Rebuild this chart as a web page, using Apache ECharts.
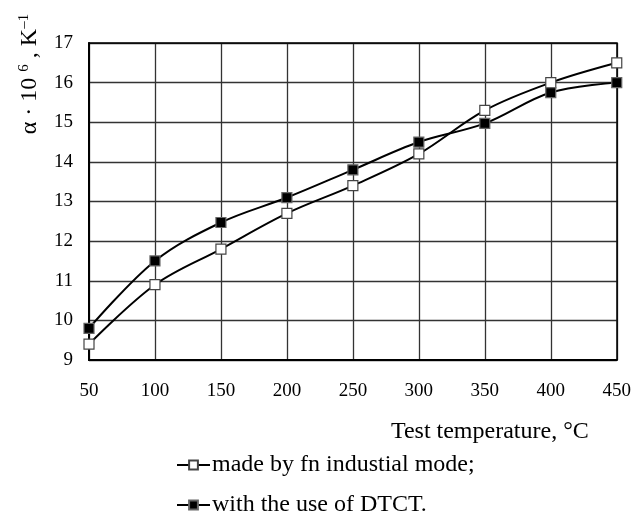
<!DOCTYPE html>
<html><head><meta charset="utf-8">
<script src="https://cdn.jsdelivr.net/npm/echarts@6/dist/echarts.min.js"></script>
<style>html,body{margin:0;padding:0;background:#fff}#c{width:634px;height:512px}</style>
</head><body><div id="c"></div>
<script>
const temps = [50, 100, 150, 200, 250, 300, 350, 400, 450];
const industrial = [9.4, 10.9, 11.8, 12.7, 13.4, 14.2, 15.3, 16.0, 16.5];
const dtct = [9.8, 11.5, 12.47, 13.1, 13.8, 14.5, 14.97, 15.75, 16.0];
const seriesNames = ['made by fn industial mode;', 'with the use of DTCT.'];
const xName = 'Test temperature, °C';

const font = 'Liberation Serif';
const chart = echarts.init(document.getElementById('c'));
const pair = (xs, ys) => xs.map((x, i) => [x, ys[i]]);
const legendBase = {
  orient: 'vertical', left: 171, itemWidth: 33, itemHeight: 11,
  textStyle: {fontFamily: font, fontSize: 24, color: '#000', padding: [0, 0, 0, -3]}
};
chart.setOption({
  animation: false,
  backgroundColor: '#fff',
  textStyle: {fontFamily: font, color: '#000'},
  grid: {left: 89, right: 17, top: 43, bottom: 152},
  xAxis: {
    type: 'value', min: 50, max: 450, interval: 50,
    axisLine: {show: true, lineStyle: {color: '#000', width: 2}},
    axisTick: {show: false},
    axisLabel: {fontFamily: font, fontSize: 19, color: '#000', margin: 22},
    splitLine: {show: true, lineStyle: {color: '#333', width: 1.3}},
    name: xName, nameLocation: 'end',
    nameTextStyle: {fontFamily: font, fontSize: 24, color: '#000', align: 'right', verticalAlign: 'top', padding: [60, 28, 0, 0]},
    nameGap: 0
  },
  yAxis: {
    type: 'value', min: 9, max: 17, interval: 1,
    axisLine: {show: true, lineStyle: {color: '#000', width: 2}},
    axisTick: {show: false},
    axisLabel: {fontFamily: font, fontSize: 19, color: '#000', margin: 16},
    splitLine: {show: true, lineStyle: {color: '#333', width: 1.3}}
  },
  graphic: [
    {type: 'rect', shape: {x: 89, y: 43, width: 528, height: 317}, style: {fill: 'none', stroke: '#000', lineWidth: 1.5}, silent: true, z: 1},
    {type: 'text', x: 30, y: 74, rotation: Math.PI / 2,
     style: {text: '{n|α · 10 }{s|6}{n| , K}{s|–1}', align: 'center', verticalAlign: 'middle',
       rich: {n: {fontFamily: font, fontSize: 24, fill: '#000'}, s: {fontFamily: font, fontSize: 15, fill: '#000', verticalAlign: 'top', padding: [0,0,12,0]}}}}
  ],
  legend: [
    Object.assign({}, legendBase, {top: 448, data: [seriesNames[0]]}),
    Object.assign({}, legendBase, {top: 488, data: [seriesNames[1]]})
  ],
  series: [
    {name: seriesNames[0], type: 'line', data: pair(temps, industrial), smooth: 0.35,
     symbol: 'rect', symbolSize: 10,
     lineStyle: {color: '#000', width: 2},
     itemStyle: {color: '#fff', borderColor: '#444', borderWidth: 1.2}, z: 3},
    {name: seriesNames[1], type: 'line', data: pair(temps, dtct), smooth: 0.35,
     symbol: 'rect', symbolSize: 10,
     lineStyle: {color: '#000', width: 2},
     itemStyle: {color: '#000', borderColor: '#666', borderWidth: 1.2}, z: 3}
  ]
});
</script></body></html>
